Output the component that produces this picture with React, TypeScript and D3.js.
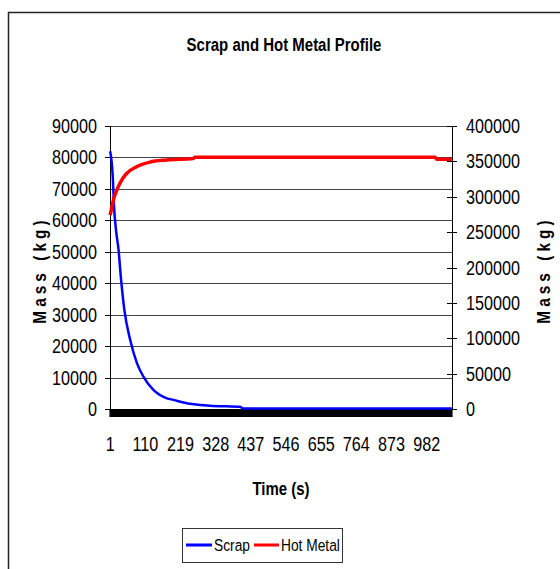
import React from "react";
import * as d3 from "d3";

// Simulation output: 1060 one-second samples on a category axis
const sampleCount = 1060;
const timeTickLabels = [1, 110, 219, 328, 437, 546, 655, 764, 873, 982];
const leftMassTicks = [0, 10000, 20000, 30000, 40000, 50000, 60000, 70000, 80000, 90000];
const rightMassTicks = [0, 50000, 100000, 150000, 200000, 250000, 300000, 350000, 400000];

// Scrap mass (kg) against time step, primary axis
const scrapTime = [1, 9, 13, 19, 27, 34, 45, 63, 84, 104, 135, 177, 197, 239, 280, 311, 360, 399, 406, 412, 1060];
const scrapMass = [82000, 74000, 64400, 57000, 50600, 42100, 31500, 22000, 14600, 10300, 6050, 3400, 2900, 1800, 1270, 1050, 850, 730, 650, 150, 150];

// Hot metal mass (kg) against time step, secondary axis
const hotMetalTime = [1, 6, 12, 24, 35, 50, 83, 124, 176, 258, 264, 1008, 1013, 1060];
const hotMetalMass = [274000, 285000, 297000, 312000, 322000, 332000, 342500, 349000, 352000, 354000, 356000, 356000, 353000, 353000];

const FONT = "'Liberation Sans', Arial, sans-serif";
const SX = 0.81; // condensed glyph width

type TProps = {
  x: number;
  y: number;
  size: number;
  anchor?: "start" | "middle" | "end";
  bold?: boolean;
  rotate?: number;
  spacing?: number;
  dy?: string;
  children: React.ReactNode;
};

// Narrow-style text: regular face squeezed horizontally along the baseline
function NText({ x, y, size, anchor = "start", bold, rotate = 0, spacing, dy, children }: TProps) {
  return (
    <text
      transform={`translate(${x},${y}) rotate(${rotate}) scale(${SX},1)`}
      textAnchor={anchor}
      fontFamily={FONT}
      fontSize={size}
      fontWeight={bold ? "bold" : "normal"}
      letterSpacing={spacing}
      dy={dy}
      fill="#000"
    >
      {children}
    </text>
  );
}

export default function App() {
  const W = 560;
  const H = 569;
  const left = 110;
  const right = 452;
  const top = 126;
  const bottom = 409;

  const x = d3.scaleLinear().domain([0.5, sampleCount + 0.5]).range([left, right]);
  const yL = d3.scaleLinear().domain([0, 90000]).range([bottom, top]);
  const yR = d3.scaleLinear().domain([0, 400000]).range([bottom, top]);

  const scrapPts: [number, number][] = scrapTime.map((t, i) => [t, scrapMass[i]]);
  const hotPts: [number, number][] = hotMetalTime.map((t, i) => [t, hotMetalMass[i]]);

  const scrapLine =
    d3.line<[number, number]>().x((d) => x(d[0])).y((d) => yL(d[1])).curve(d3.curveMonotoneX)(scrapPts) || "";
  const hotLine =
    d3.line<[number, number]>().x((d) => x(d[0])).y((d) => yR(d[1])).curve(d3.curveMonotoneX)(hotPts) || "";

  const categoryTicks = d3.range(0, sampleCount + 1).map((i) => x(i + 0.5));
  const snap = (v: number) => Math.round(v) + 0.5;

  return (
    <svg width={W} height={H} style={{ position: "absolute", left: 0, top: 0, background: "#fff" }}>
      <rect x={8.5} y={12.5} width={560} height={570} fill="#fff" stroke="#222" strokeWidth={1.5} />
      <NText x={284} y={51} size={18.5} anchor="middle" bold>
        Scrap and Hot Metal Profile
      </NText>

      {/* gridlines from primary axis */}
      {leftMassTicks.map((v) => (
        <line key={"g" + v} x1={left} x2={right} y1={snap(yL(v))} y2={snap(yL(v))} stroke="#444" strokeWidth={1} />
      ))}

      {/* primary axis */}
      <line x1={left + 0.5} x2={left + 0.5} y1={top} y2={bottom} stroke="#000" strokeWidth={1} />
      {leftMassTicks.map((v) => (
        <g key={"l" + v}>
          <line x1={left - 5} x2={left} y1={snap(yL(v))} y2={snap(yL(v))} stroke="#000" />
          <NText x={97} y={yL(v)} size={20} anchor="end" dy="0.35em">
            {v}
          </NText>
        </g>
      ))}

      {/* secondary axis */}
      <line x1={right + 0.5} x2={right + 0.5} y1={top} y2={bottom} stroke="#000" strokeWidth={1} />
      {rightMassTicks.map((v) => (
        <g key={"r" + v}>
          <line x1={right - 5} x2={right + 5} y1={snap(yR(v))} y2={snap(yR(v))} stroke="#000" />
          <NText x={466} y={yR(v)} size={20} dy="0.35em">
            {v}
          </NText>
        </g>
      ))}

      {/* category axis with a tick per sample */}
      <line x1={left} x2={right} y1={bottom + 0.5} y2={bottom + 0.5} stroke="#000" />
      {categoryTicks.map((cx, i) => (
        <line key={"c" + i} x1={cx} x2={cx} y1={bottom} y2={bottom + 8} stroke="#000" strokeWidth={1} />
      ))}
      {timeTickLabels.map((t) => (
        <NText key={"t" + t} x={x(t)} y={451} size={20} anchor="middle">
          {t}
        </NText>
      ))}

      {/* series */}
      <path d={scrapLine} fill="none" stroke="#0000ff" strokeWidth={2.5} strokeLinejoin="round" />
      <path d={hotLine} fill="none" stroke="#ff0000" strokeWidth={3.5} strokeLinejoin="round" />

      {/* axis titles */}
      <NText x={281} y={495} size={18.5} anchor="middle" bold>
        Time (s)
      </NText>
      <NText x={45.5} y={270} size={19} anchor="middle" bold rotate={-90} spacing={5}>
        Mass (kg)
      </NText>
      <NText x={550} y={270} size={19} anchor="middle" bold rotate={-90} spacing={5}>
        Mass (kg)
      </NText>

      {/* legend */}
      <rect x={182.5} y={528.5} width={160} height={34} fill="#fff" stroke="#333" strokeWidth={1} />
      <line x1={186} x2={212} y1={545} y2={545} stroke="#0000ff" strokeWidth={3} />
      <NText x={214} y={545} size={17} dy="0.35em">Scrap</NText>
      <line x1={254} x2={279} y1={545} y2={545} stroke="#ff0000" strokeWidth={3} />
      <NText x={281} y={545} size={17} dy="0.35em">Hot Metal</NText>
    </svg>
  );
}
